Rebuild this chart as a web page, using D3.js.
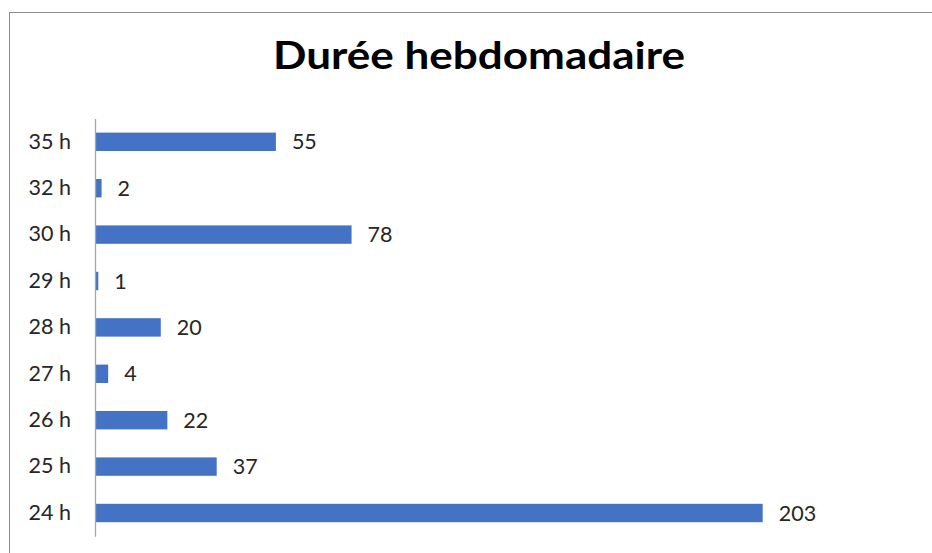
<!DOCTYPE html>
<html><head><meta charset="utf-8">
<script src="https://cdn.jsdelivr.net/npm/d3@7/dist/d3.min.js"></script>
<style>body{margin:0;background:#fff}svg{display:block}</style>
</head><body>
<svg id="c" width="932" height="553"></svg>
<script>
const categories = ["24 h","25 h","26 h","27 h","28 h","29 h","30 h","32 h","35 h"];
const values = [203,37,22,4,20,1,78,2,55];
const title = "Durée hebdomadaire";

(function(){
const svg = d3.select("#c");
svg.append("rect").attr("x",9.5).attr("y",12.5).attr("width",940).attr("height",560)
  .attr("fill","#fff").attr("stroke","#8c8c8c").attr("stroke-width",1);

svg.append("text").attr("x",479).attr("y",69).attr("text-anchor","middle")
  .attr("font-family","Lato, 'Open Sans', sans-serif").attr("font-weight","bold")
  .attr("font-size",38).attr("textLength",412).attr("lengthAdjust","spacingAndGlyphs")
  .attr("fill","#000").text(title);

const pl = 95, pt = 118.6, pb = 536.2;
const x = d3.scaleLinear().domain([0,203]).range([pl, 762.7]);
const y = d3.scaleBand().domain(categories.slice().reverse()).range([pt,pb]).paddingInner(0.6).paddingOuter(0.3);

const data = categories.map((c,i)=>({c, v: values[i]}));

svg.selectAll("rect.bar").data(data).enter().append("rect").attr("class","bar")
  .attr("x", x(0)).attr("y", d=>y(d.c)+y.bandwidth()/2-9.2)
  .attr("width", d=>x(d.v)-x(0)).attr("height",18.4).attr("fill","#4472C4");

const ax = svg.append("g").attr("transform",`translate(${pl},0)`)
  .call(d3.axisLeft(y).tickSize(0).tickPadding(24));
ax.select(".domain").attr("stroke","#a6a6a6").attr("stroke-width",1.3);
ax.selectAll("text").attr("font-family","Lato, 'Open Sans', sans-serif").attr("font-size",21.5).attr("fill","#262626");

svg.selectAll("text.lbl").data(data).enter().append("text").attr("class","lbl")
  .attr("x", d=>x(d.v)+16).attr("y", d=>y(d.c)+y.bandwidth()/2)
  .attr("dy","0.35em").attr("font-family","Lato, 'Open Sans', sans-serif").attr("font-size",21.5)
  .attr("fill","#262626").text(d=>d.v);
})();
</script>
</body></html>
